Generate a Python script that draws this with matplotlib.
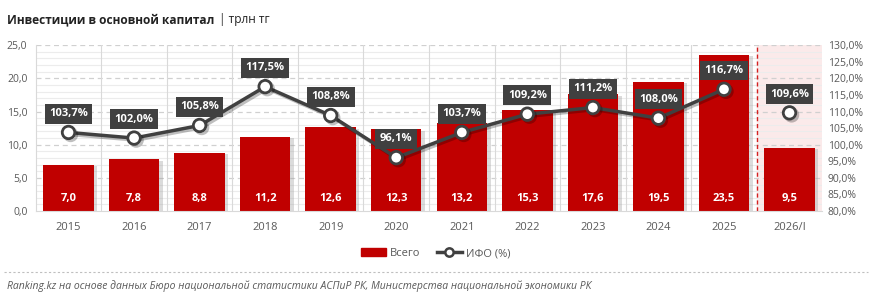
import matplotlib
matplotlib.use("Agg")
import matplotlib.pyplot as plt
import matplotlib.patheffects as pe
from matplotlib.ticker import MultipleLocator, FuncFormatter
from matplotlib.patches import Patch
from matplotlib.lines import Line2D
import numpy as np

categories = ["2015", "2016", "2017", "2018", "2019", "2020", "2021", "2022", "2023", "2024", "2025", "2026/I"]
total = [7.0, 7.8, 8.8, 11.2, 12.6, 12.3, 13.2, 15.3, 17.6, 19.5, 23.5, 9.5]
ifo = [103.7, 102.0, 105.8, 117.5, 108.8, 96.1, 103.7, 109.2, 111.2, 108.0, 116.7, 109.6]

plt.rcParams['font.family'] = ['Open Sans', 'DejaVu Sans']

RED = "#c00000"
DARK = "#404040"
TXT = "#595959"

fig = plt.figure(figsize=(8.72, 2.99), dpi=100)
ax = fig.add_axes([0.041, 0.294, 0.902, 0.555])
ax2 = ax.twinx()

x = np.arange(len(categories))
n = len(categories)

ax.set_xlim(-0.5, n - 0.5)
ax.set_ylim(0, 25)
ax2.set_ylim(80, 130)

# shaded last column
ax.axvspan(n - 1.5, n - 0.5, color="#fbeaea", zorder=0)
ax.axvline(n - 1.5, color="#d42020", lw=1, ls=(0, (3, 2)), zorder=1)

# grid
for v in np.arange(0, 25.01, 1.0):
    if abs(v % 5) < 1e-6:
        if v > 0:
            ax.axhline(v, color="#d0d0d0", lw=0.9, ls=(0, (4, 3)), zorder=0.5)
    else:
        ax.axhline(v, color="#ececec", lw=0.8, zorder=0.5)
for i in range(n - 2):
    ax.axvline(i + 0.5, color="#d9d9d9", lw=0.8, zorder=0.5)

bars = ax.bar(x, total, width=0.77, color=RED, zorder=2,
              path_effects=[pe.SimplePatchShadow(offset=(2.5, -1), shadow_rgbFace="#999999", alpha=0.35), pe.Normal()])
for xi, v in zip(x, total):
    ax.text(xi, 1.0, f"{v:.1f}".replace(".", ","), ha="center", va="bottom",
            color="white", fontsize=8, fontweight="bold", zorder=3)

ax.set_xticks(x)
ax.set_xticklabels(categories, fontsize=8, color=TXT)
ax.tick_params(axis="x", length=0, pad=8)
ax.yaxis.set_major_locator(MultipleLocator(5))
ax.yaxis.set_major_formatter(FuncFormatter(lambda v, p: f"{v:.1f}".replace(".", ",")))
ax.tick_params(axis="y", length=0, labelsize=7.5, labelcolor=TXT, pad=6)
ax2.yaxis.set_major_locator(MultipleLocator(5))
ax2.yaxis.set_major_formatter(FuncFormatter(lambda v, p: f"{v:.1f}%".replace(".", ",")))
ax2.tick_params(axis="y", length=0, labelsize=7.5, labelcolor=TXT, pad=4)

for s in ["top", "right"]:
    ax.spines[s].set_visible(False)
    ax2.spines[s].set_visible(False)
ax2.spines["left"].set_visible(False)
ax2.spines["bottom"].set_visible(False)
ax.spines["left"].set_color("#d9d9d9")
ax.spines["bottom"].set_color("#d9d9d9")

shadow = [pe.SimpleLineShadow(offset=(1.5, -1.5), shadow_color="#000000", alpha=0.25), pe.Normal()]
ax2.plot(x[:-1], ifo[:-1], color=DARK, lw=2.5, zorder=4, path_effects=shadow)
ax2.plot(x, ifo, ls="none", marker="o", ms=9, mfc="white", mec=DARK, mew=2, zorder=5,
         path_effects=shadow)
ax.set_zorder(ax2.get_zorder() - 1)
ax.patch.set_visible(False)

for xi, v in zip(x, ifo):
    ax2.annotate(f"{v:.1f}%".replace(".", ","), (xi, v), xytext=(0, 13.5), textcoords="offset points",
                 ha="center", va="center", color="white", fontsize=8, fontweight="bold", zorder=6,
                 bbox=dict(boxstyle="square,pad=0.4", fc=DARK, ec="none"))

# legend
handles = [Patch(color=RED, label="Всего"),
           Line2D([], [], color=DARK, lw=2.5, marker="o", ms=6, mfc="white", mec=DARK, mew=1.8, label="ИФО (%)")]
leg = fig.legend(handles=handles, loc="center", bbox_to_anchor=(0.5, 0.152), ncol=2, frameon=False,
                 fontsize=8, handlelength=2.2, columnspacing=1.5, handletextpad=0.4)
for t in leg.get_texts():
    t.set_color(TXT)

# title
t1 = fig.text(0.008, 0.935, "Инвестиции в основной капитал", fontsize=8.6, fontweight="bold", color="#222222",
              ha="left", va="center")
plt.annotate("| трлн тг", xy=(1, 0.5), xycoords=t1, xytext=(3, 0), textcoords="offset points",
             fontsize=8.6, color="#222222", ha="left", va="center", annotation_clip=False)

# separator + source
fig.add_artist(Line2D([0.005, 0.995], [0.09, 0.09], transform=fig.transFigure, color="#bfbfbf", lw=0.8, ls=(0, (2, 2))))
fig.text(0.008, 0.043, "Ranking.kz на основе данных Бюро национальной статистики АСПиР РК, Министерства национальной экономики РК",
         fontsize=7.5, style="italic", color="#595959", ha="left", va="center")

fig.savefig("out.png", dpi=100)
